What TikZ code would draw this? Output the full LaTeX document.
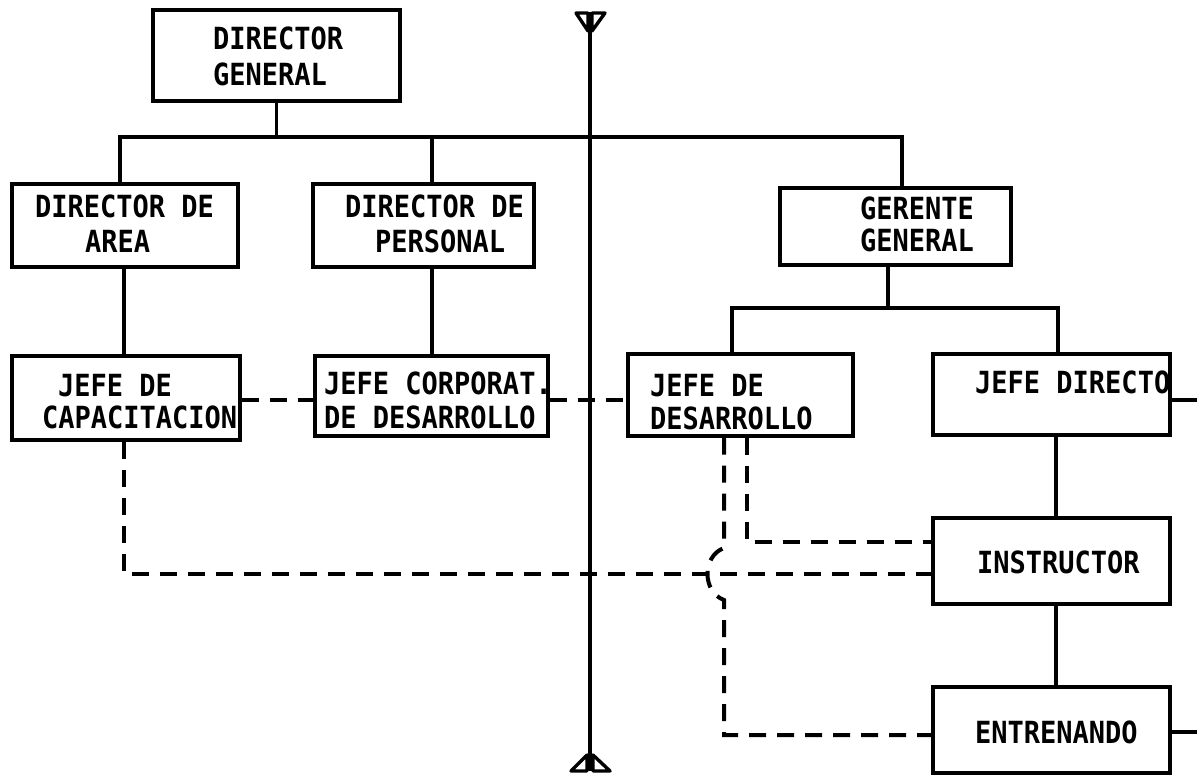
\documentclass[tikz,border=0pt]{standalone}
\usepackage{fontspec}
\usepackage{graphicx}
\newfontfamily\typefont{DejaVu Sans Mono}
\newcommand{\tallword}[1]{\scalebox{1}[1.13]{#1}}
\begin{document}
\begin{tikzpicture}[x=1pt,y=-1pt,
  box/.style={draw=black, line width=3.4pt, inner sep=0pt},
  lbl/.style={anchor=base west, inner sep=0pt, font=\typefont\bfseries\fontsize{27}{33}\selectfont},
  conn/.style={line width=3.4pt},
  dconn/.style={line width=4pt, dash pattern=on 17pt off 11pt},
  axisline/.style={line width=3.4pt, line join=round}]
\useasboundingbox (0,0) rectangle (1197,779);
\fill[white] (0,0) rectangle (1197,779);

% boxes
\node[box, minimum width=247pt, minimum height=91pt] (dg) at (276.5,55.5) {};
\node[box, minimum width=226pt, minimum height=83pt] (da) at (125,225.5) {};
\node[box, minimum width=221pt, minimum height=83pt] (dp) at (423.5,225.5) {};
\node[box, minimum width=231pt, minimum height=77pt] (gg) at (895.5,226.5) {};
\node[box, minimum width=228pt, minimum height=84pt] (jc) at (126,398) {};
\node[box, minimum width=233pt, minimum height=80pt] (jcd) at (431.5,396) {};
\node[box, minimum width=225pt, minimum height=82pt] (jdd) at (740.5,395) {};
\node[box, minimum width=237pt, minimum height=81pt] (jd) at (1051.5,394.5) {};
\node[box, minimum width=237pt, minimum height=86pt] (ins) at (1051.5,561) {};
\node[box, minimum width=237pt, minimum height=86pt] (ent) at (1051.5,730) {};

% labels
\node[lbl] (dg1) at (213,49) {\tallword{DIRECTOR}};
\node[lbl] (dg2) at (213,85) {\tallword{GENERAL}};
\node[lbl] (da1) at (35,217) {\tallword{DIRECTOR DE}};
\node[lbl] (da2) at (85,252) {\tallword{AREA}};
\node[lbl] (dp1) at (345,217) {\tallword{DIRECTOR DE}};
\node[lbl] (dp2) at (375,252) {\tallword{PERSONAL}};
\node[lbl] (gg1) at (860,219) {\tallword{GERENTE}};
\node[lbl] (gg2) at (860,251) {\tallword{GENERAL}};
\node[lbl] (jc1) at (58,396) {\tallword{JEFE DE}};
\node[lbl] (jc2) at (42,428) {\tallword{CAPACITACION}};
\node[lbl] (jcd1) at (324,394) {\tallword{JEFE CORPORAT.}};
\node[lbl] (jcd2) at (324,428) {\tallword{DE DESARROLLO}};
\node[lbl] (jdd1) at (650,396) {\tallword{JEFE DE}};
\node[lbl] (jdd2) at (650,429) {\tallword{DESARROLLO}};
\node[lbl] (jd1) at (975,393) {\tallword{JEFE DIRECTO}};
\node[lbl] (ins1) at (977,573) {\tallword{INSTRUCTOR}};
\node[lbl] (ent1) at (975,743) {\tallword{ENTRENANDO}};

% solid connectors
\coordinate (bl) at (120,137);
\coordinate (bm) at (432,137);
\coordinate (br) at (902,137);
\draw[conn] (dg.south) -- (dg.south |- bl);
\draw[conn] (bl |- da.north) -- (bl) -- (br) -- (br |- gg.north);
\draw[conn] (bm) -- (bm |- dp.north);
\coordinate (va) at (124,300);
\coordinate (vp) at (432,300);
\draw[conn] (va |- da.south) -- (va |- jc.north);
\draw[conn] (vp |- dp.south) -- (vp |- jcd.north);
\coordinate (g0) at (888,308);
\coordinate (gl) at (732,308);
\coordinate (gr) at (1058,308);
\draw[conn] (g0 |- gg.south) -- (g0);
\draw[conn] (gl |- jdd.north) -- (gl) -- (gr) -- (gr |- jd.north);
\coordinate (vd) at (1056,480);
\draw[conn] (vd |- jd.south) -- (vd |- ins.north);
\draw[conn] (vd |- ins.south) -- (vd |- ent.north);
\coordinate (re1) at (1197,400);
\coordinate (re2) at (1197,732);
\draw[conn] (re1 -| jd.east) -- (re1);
\draw[conn] (re2 -| ent.east) -- (re2);

% dashed connectors
\coordinate (hy) at (0,400);
\draw[dconn] (jc.east |- hy) -- (jcd.west |- hy);
\draw[dconn] (jcd.east |- hy) -- (jdd.west |- hy);
\coordinate (d1) at (124,574);
\draw[dconn] (d1 |- jc.south) -- (d1) -- (d1 -| ins.west);
\coordinate (d2) at (747,542);
\draw[dconn] (d2 |- jdd.south) -- (d2) -- (d2 -| ins.west);
\coordinate (d3) at (724,735);
\coordinate (j1) at (724,548);
\coordinate (j2) at (724,600);
\draw[dconn] (d3 |- jdd.south) -- (j1) .. controls (702,556) and (702,592) .. (j2) -- (d3) -- (d3 -| ent.west);

% vertical axis
\coordinate (at) at (590,12);
\coordinate (ab) at (590,771);
\draw[axisline] (at) -- (ab);
\draw[axisline] (576,13) -- (588,13) -- (588,31) -- cycle;
\draw[axisline] (592,13) -- (605,13) -- (592,31) -- cycle;
\draw[axisline] (571,771) -- (587,755) -- (587,771) -- cycle;
\draw[axisline] (593,755) -- (610,771) -- (593,771) -- cycle;
\end{tikzpicture}
\end{document}
